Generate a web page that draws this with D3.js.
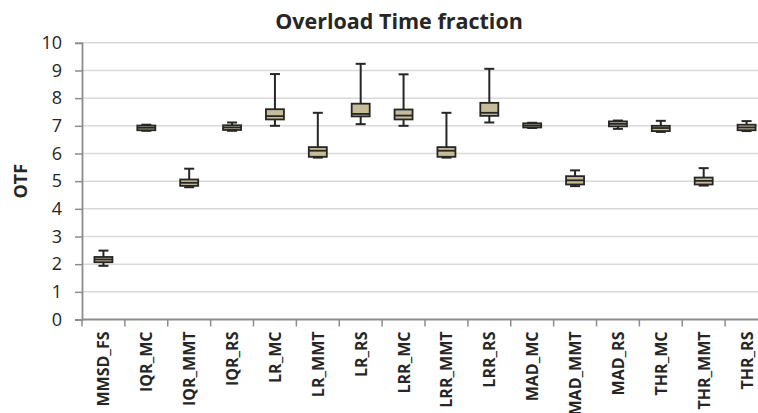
<!DOCTYPE html>
<html>
<head>
<meta charset="utf-8">
<script src="https://cdn.jsdelivr.net/npm/d3@7"></script>
<style>
    body { margin: 0; background: #fff; }
    svg { display: block; }
</style>
</head>
<body>
<div id="chart"></div>
<script>
const categories = ["MMSD_FS", "IQR_MC", "IQR_MMT", "IQR_RS", "LR_MC", "LR_MMT", "LR_RS", "LRR_MC",
    "LRR_MMT", "LRR_RS", "MAD_MC", "MAD_MMT", "MAD_RS", "THR_MC", "THR_MMT", "THR_RS"];
const whiskerLow  = [1.94, 6.82, 4.78, 6.82, 7.00, 5.85, 7.06, 7.00, 5.85, 7.12, 6.92, 4.82, 6.89, 6.78, 4.84, 6.81];
const q1          = [2.07, 6.84, 4.83, 6.85, 7.23, 5.88, 7.34, 7.23, 5.88, 7.36, 6.94, 4.88, 6.98, 6.81, 4.88, 6.84];
const median      = [2.17, 6.93, 4.94, 6.94, 7.35, 6.10, 7.43, 7.37, 6.10, 7.47, 7.01, 5.03, 7.07, 6.92, 5.01, 6.94];
const q3          = [2.26, 7.01, 5.06, 7.02, 7.60, 6.23, 7.80, 7.59, 6.23, 7.83, 7.09, 5.18, 7.16, 7.00, 5.13, 7.04];
const whiskerHigh = [2.49, 7.04, 5.45, 7.12, 8.87, 7.47, 9.24, 8.86, 7.47, 9.06, 7.11, 5.39, 7.19, 7.18, 5.47, 7.17];
const yTicks = [0, 1, 2, 3, 4, 5, 6, 7, 8, 9, 10];

const W = 758, H = 413;
const margin = { left: 82, right: 768, top: 42.8, bottom: 319.5 };

const data = categories.map((c, i) => ({
    name: c, lo: whiskerLow[i], q1: q1[i], med: median[i], q3: q3[i], hi: whiskerHigh[i]
}));

const svg = d3.select("#chart").append("svg")
    .attr("width", W)
    .attr("height", H);

// Scales
const x = d3.scaleBand().domain(categories).range([margin.left, margin.right]);
const y = d3.scaleLinear().domain([0, 10]).range([margin.bottom, margin.top]);

// Gridlines
svg.append("g")
    .selectAll("line")
    .data(yTicks.filter(d => d > 0))
    .join("line")
    .attr("x1", margin.left).attr("x2", margin.right)
    .attr("y1", d => y(d)).attr("y2", d => y(d))
    .attr("stroke", "#d9d9d9")
    .attr("stroke-width", 1.5);

// Y axis
const yAxis = svg.append("g")
    .attr("transform", `translate(${margin.left},0)`)
    .call(d3.axisLeft(y).tickValues(yTicks).tickSize(7).tickPadding(13).tickFormat(d3.format("d")));
yAxis.select(".domain").attr("stroke", "#8c8c8c").attr("stroke-width", 1.8);
yAxis.selectAll(".tick line").attr("stroke", "#8c8c8c").attr("stroke-width", 1.5);
yAxis.selectAll(".tick text")
    .attr("fill", "#262626")
    .style("font-family", "'Open Sans', sans-serif")
    .style("font-size", "18px");

// X axis: ticks at category boundaries
const xg = svg.append("g");
xg.append("line")
    .attr("x1", margin.left).attr("x2", margin.right)
    .attr("y1", y(0)).attr("y2", y(0))
    .attr("stroke", "#8c8c8c")
    .attr("stroke-width", 1.8);
xg.selectAll("line.tk")
    .data(categories)
    .join("line")
    .attr("class", "tk")
    .attr("x1", d => x(d)).attr("x2", d => x(d))
    .attr("y1", y(0)).attr("y2", y(0) + 7)
    .attr("stroke", "#8c8c8c")
    .attr("stroke-width", 1.5);
xg.selectAll("text")
    .data(categories)
    .join("text")
    .attr("transform", d => `translate(${x(d) + x.bandwidth() / 2 + 6},${y(0) + 12}) rotate(-90)`)
    .attr("text-anchor", "end")
    .attr("fill", "#262626")
    .style("font-family", "'Open Sans', sans-serif")
    .style("font-weight", "bold")
    .style("font-size", "16px")
    .text(d => d);

// Boxes
const boxW = 18, capW = 10;
const g = svg.append("g")
    .selectAll("g")
    .data(data)
    .join("g")
    .attr("transform", d => `translate(${x(d.name) + x.bandwidth() / 2},0)`);

g.append("line")
    .attr("y1", d => y(d.hi)).attr("y2", d => y(d.lo))
    .attr("stroke", "#262626").attr("stroke-width", 2);
g.append("line")
    .attr("x1", -capW / 2).attr("x2", capW / 2)
    .attr("y1", d => y(d.hi)).attr("y2", d => y(d.hi))
    .attr("stroke", "#262626").attr("stroke-width", 2);
g.append("line")
    .attr("x1", -capW / 2).attr("x2", capW / 2)
    .attr("y1", d => y(d.lo)).attr("y2", d => y(d.lo))
    .attr("stroke", "#262626").attr("stroke-width", 2);
g.append("rect")
    .attr("x", -boxW / 2)
    .attr("width", boxW)
    .attr("y", d => y(d.q3))
    .attr("height", d => y(d.q1) - y(d.q3))
    .attr("fill", "#c4bd97")
    .attr("stroke", "#262626")
    .attr("stroke-width", 1.8);
g.append("line")
    .attr("x1", -boxW / 2).attr("x2", boxW / 2)
    .attr("y1", d => y(d.med)).attr("y2", d => y(d.med))
    .attr("stroke", "#262626").attr("stroke-width", 1.8);

// Title
svg.append("text")
    .attr("x", 399)
    .attr("y", 29)
    .attr("text-anchor", "middle")
    .attr("fill", "#262626")
    .style("font-family", "'Open Sans', sans-serif")
    .style("font-weight", "bold")
    .style("font-size", "21.5px")
    .text("Overload Time fraction");

// Y label
svg.append("text")
    .attr("transform", `translate(27,${(margin.top + margin.bottom) / 2}) rotate(-90)`)
    .attr("text-anchor", "middle")
    .attr("fill", "#262626")
    .style("font-family", "'Open Sans', sans-serif")
    .style("font-weight", "bold")
    .style("font-size", "18px")
    .text("OTF");
</script>
</body>
</html>
